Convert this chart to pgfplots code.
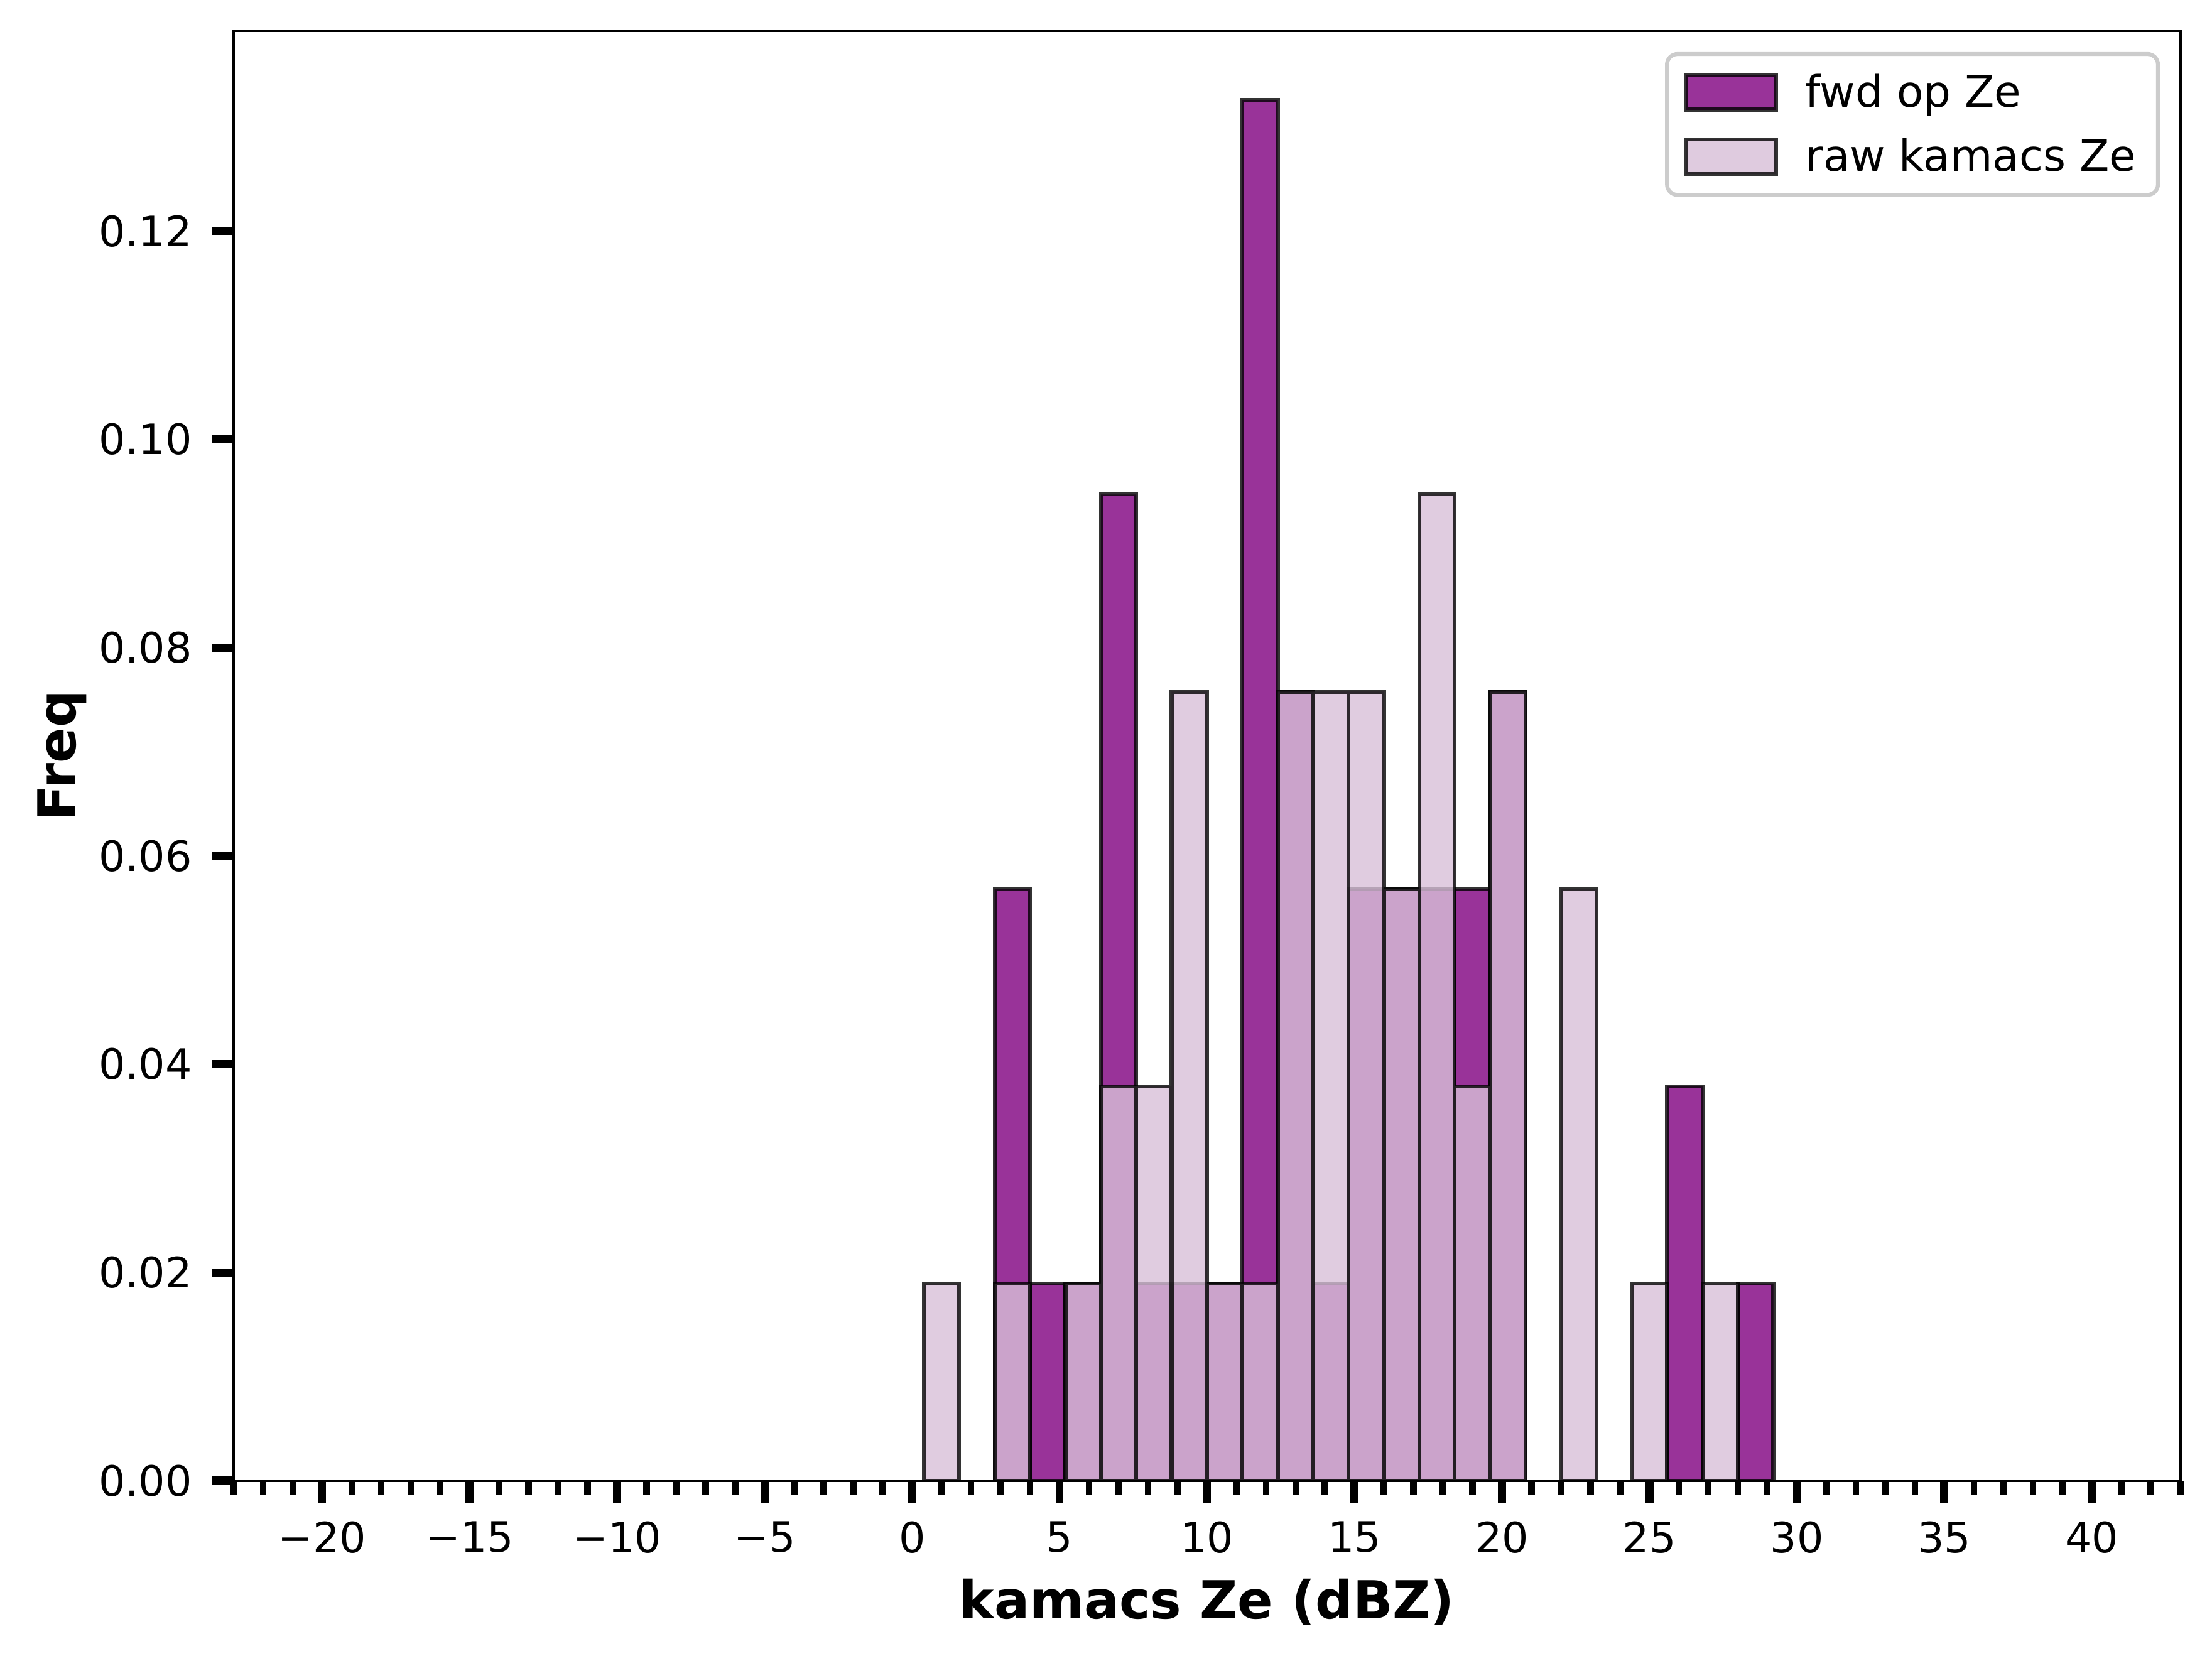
\documentclass[border=0pt]{standalone}
\usepackage{fontspec}
\setmainfont{DejaVu Sans}
\usepackage{pgfplots}
\usepackage{pgfplotstable}
\pgfplotsset{compat=1.18}
\definecolor{fwdc}{RGB}{128,0,128}
\definecolor{rawc}{RGB}{216,191,216}
\definecolor{legedge}{RGB}{204,204,204}

% bin centres (bin width 1.2), density values
\pgfplotstableread{
x y
3.4 0.05682
4.6 0.01894
5.8 0.01894
7.0 0.09470
8.2 0.01894
9.4 0.01894
10.6 0.01894
11.8 0.13258
13.0 0.07576
14.2 0.01894
15.4 0.05682
16.6 0.05682
17.8 0.05682
19.0 0.05682
20.2 0.07576
26.2 0.03788
28.6 0.01894
}\fwdtable

\pgfplotstableread{
x y
1.0 0.01894
3.4 0.01894
5.8 0.01894
7.0 0.03788
8.2 0.03788
9.4 0.07576
10.6 0.01894
11.8 0.01894
13.0 0.07576
14.2 0.07576
15.4 0.07576
16.6 0.05682
17.8 0.09470
19.0 0.03788
20.2 0.07576
22.6 0.05682
25.0 0.01894
27.4 0.01894
}\rawtable

\begin{document}
\begin{tikzpicture}
\begin{axis}[
  name=ax,
  scale only axis,
  width=743.9pt, height=554.1pt,
  xmin=-23, xmax=43, ymin=0, ymax=0.13921,
  axis on top,
  axis line style={line width=1.1pt},
  tick align=outside, tick pos=left,
  xtick={-20,-15,-10,-5,0,5,10,15,20,25,30,35,40},
  xticklabels={−20,−15,−10,−5,0,5,10,15,20,25,30,35,40},
  minor xtick={-23,-22,...,43},
  ytick={0,0.02,0.04,0.06,0.08,0.1,0.12},
  yticklabels={0.00,0.02,0.04,0.06,0.08,0.10,0.12},
  major tick length=8.4pt, minor tick length=5.5pt,
  every tick/.style={black},
  every major tick/.append style={line width=3.1pt},
  every minor tick/.append style={line width=2.5pt},
  tick label style={font=\fontsize{16}{19}\selectfont},
  xticklabel style={inner sep=0pt, yshift=-7pt},
  yticklabel style={inner sep=0pt, xshift=-7.3pt},
  every axis x label/.style={at={([yshift=-52.8pt]axis description cs:0.5,0)}, anchor=base, font=\bfseries\fontsize{20}{24}\selectfont},
  every axis y label/.style={at={([xshift=-60.3pt]axis description cs:0,0.5)}, anchor=base, rotate=90, font=\bfseries\fontsize{20}{24}\selectfont},
  xlabel={kamacs Ze (dBZ)},
  ylabel={Freq},
  legend style={at={(1,1)}, anchor=north east, xshift=-7.8pt, yshift=-8.1pt,
    draw=legedge, line width=1.5pt, rounded corners=4pt, fill=white,
    inner xsep=6.4pt, inner ysep=5.6pt, row sep=6.4pt,
    font=\fontsize{16.6}{19.5}\selectfont,
    /tikz/every odd column/.append style={column sep=8.4pt}},
  legend cell align=left,
]
\addplot[ybar, bar width=1.2, bar shift=0pt, fill=fwdc, fill opacity=0.8,
  draw=black, draw opacity=0.8, line width=1.5pt,
  legend image code/.code={\draw[sharp corners, fill=fwdc, fill opacity=0.8, draw=black, draw opacity=0.8, line width=1.5pt] (0pt,-6.6pt) rectangle (34.6pt,6.6pt);}]
  table[x=x, y=y] {\fwdtable};
\addlegendentry{fwd op Ze}
\addplot[ybar, bar width=1.2, bar shift=0pt, fill=rawc, fill opacity=0.8,
  draw=black, draw opacity=0.8, line width=1.5pt,
  legend image code/.code={\draw[sharp corners, fill=rawc, fill opacity=0.8, draw=black, draw opacity=0.8, line width=1.5pt] (0pt,-6.6pt) rectangle (34.6pt,6.6pt);}]
  table[x=x, y=y] {\rawtable};
\addlegendentry{raw kamacs Ze}
\end{axis}
\pgfresetboundingbox
\path[use as bounding box] ([xshift=-89.3pt,yshift=-68.7pt]ax.south west) rectangle ([xshift=12.1pt,yshift=11.8pt]ax.north east);
\end{tikzpicture}
\end{document}
